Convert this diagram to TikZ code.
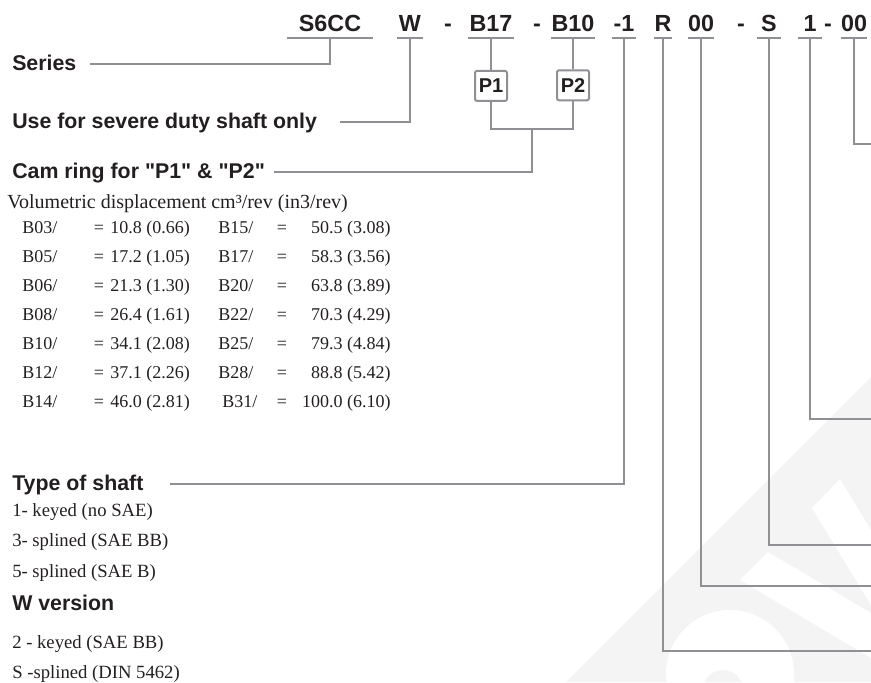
\documentclass[tikz,border=0pt]{standalone}
\usepackage{fontspec}
\setmainfont{Liberation Serif}
\setsansfont{Liberation Sans}
\newfontfamily\headfont{Liberation Sans}
\usepackage{tikz}
\usetikzlibrary{positioning,calc}
\definecolor{leadgray}{HTML}{8F8F94}
\definecolor{inkblack}{HTML}{231F20}
\definecolor{wmgray}{HTML}{F4F4F5}
\tikzset{
  lead/.style ={draw=leadgray,line width=1.5pt},
  code/.style ={font=\sffamily\bfseries\fontsize{17.5}{20}\selectfont,text=inkblack,anchor=base,inner sep=0pt,text depth=5pt},
  pbox/.style ={draw=leadgray,line width=1.5pt,rounded corners=1.5pt,minimum width=24pt,minimum height=22.5pt,inner sep=0pt,font=\sffamily\bfseries\fontsize{15}{18}\selectfont,text=inkblack},
  head/.style ={font=\headfont\bfseries\fontsize{16}{18}\selectfont,text=inkblack,anchor=base west,inner sep=0pt,text height=11pt,text depth=2pt},
  txt/.style  ={font=\fontsize{14}{16}\selectfont,text=inkblack,anchor=base west,inner sep=0pt},
  tab/.style  ={txt,font=\fontsize{13.5}{16}\selectfont},
}
\begin{document}
\begin{tikzpicture}[x=0.75pt,y=-0.75pt]
  \useasboundingbox (0,0) rectangle (871,682);
  % watermark
  \fill[wmgray] (566,682) -- (871,377) -- (871,682) -- cycle;
  \begin{scope}
    \clip (566,682) -- (871,377) -- (871,682) -- cycle;
    \fill[white] (812,508) -- (840,479) -- (871,530) -- (871,605) -- cycle;
    \fill[white] (740,580) -- (768,552) -- (871,613) -- (871,658) -- cycle;
    \fill[white] (730,674) circle[radius=64];
    \fill[wmgray] (723,690) circle[radius=20];
  \end{scope}

  % ordering code
  \node[code,minimum width=63.75pt] (s6cc) at (330,31) {S6CC};
  \node[code,minimum width=18.75pt] (w) at (410,31) {W};
  \node[code] (d1) at (448,31) {-};
  \node[code,minimum width=33.75pt] (b17) at (491,31) {B17};
  \node[code] (d2) at (537,31) {-};
  \node[code,minimum width=31.5pt] (b10) at (573,31) {B10};
  \node[code,minimum width=18pt] (m1) at (624,31) {-1};
  \node[code,minimum width=10.5pt] (r) at (663,31) {R};
  \node[code,minimum width=18pt] (oa) at (701,31) {00};
  \node[code] (d3) at (741,31) {-};
  \node[code,minimum width=18pt] (s) at (769,31) {S};
  \node[code,minimum width=18pt] (one) at (810,31) {1};
  \node[code] (d4) at (828,31) {-};
  \node[code,minimum width=18pt] (ob) at (854,31) {00};
  \foreach \n in {s6cc,w,b17,b10,m1,r,oa,s,one,ob}
    \draw[lead] (\n.south west) -- (\n.south east);

  \node[pbox,below=24pt of b17] (p1) {P1};
  \node[pbox,below=23.5pt of b10] (p2) {P2};

  % headings
  \node[head] (series) at (12,70) {Series};
  \node[head] (severe) at (12,128) {Use for severe duty shaft only};
  \node[head] (cam) at (12,178) {Cam ring for "P1" \& "P2"};
  \node[txt,font=\fontsize{15}{16}\selectfont] (vol) at (7,208) {Volumetric displacement cm³/rev (in3/rev)};

  \foreach \a/\b/\xc/\c/\d [count=\i, evaluate=\i as \y using 203.9+29.1*\i] in {
      03/10.8 (0.66)/218/15/50.5 (3.08),
      05/17.2 (1.05)/218/17/58.3 (3.56),
      06/21.3 (1.30)/218/20/63.8 (3.89),
      08/26.4 (1.61)/218/22/70.3 (4.29),
      10/34.1 (2.08)/218/25/79.3 (4.84),
      12/37.1 (2.26)/218/28/88.8 (5.42),
      14/46.0 (2.81)/222/31/100.0 (6.10)}
  {
    \node[tab] (ca\i) at (22,\y) {B\a/};
    \node[tab,anchor=base] (ea\i) at (99,\y) {=};
    \node[tab] (va\i) at (110,\y) {\b};
    \node[tab] (cb\i) at (\xc,\y) {B\c/};
    \node[tab,anchor=base] (eb\i) at (282,\y) {=};
    \node[tab,anchor=base east] (vb\i) at (391,\y) {\d};
  }

  \node[head] (shaft) at (12,490) {Type of shaft};
  \node[txt] (k1) at (12,516) {1- keyed (no SAE)};
  \node[txt] (k3) at (12,546) {3- splined (SAE BB)};
  \node[txt] (k5) at (12,577) {5- splined (SAE B)};
  \node[head] (wver) at (12,610) {W version};
  \node[txt] (k2) at (12,648) {2 - keyed (SAE BB)};
  \node[txt] (ks) at (12,678) {S -splined (DIN 5462)};

  % leads
  \coordinate (pjoin) at ($(p1.south)!0.5!(p2.south)+(0,27)$);
  \draw[lead] (s6cc.south) |- ([xshift=9.75pt]series.east);
  \draw[lead] (w.south) |- ([xshift=17.25pt]severe.east);
  \draw[lead] (b17.south) -- (p1.north);
  \draw[lead] (b10.south) -- (p2.north);
  \draw[lead] (p1.south) |- (pjoin) -| (p2.south);
  \draw[lead] (pjoin) |- ([xshift=6.75pt]cam.east);
  \draw[lead] (m1.south) |- ([xshift=19.5pt]shaft.east);
  \foreach \n/\y in {r/651,oa/586,s/545,one/419,ob/144}{
    \coordinate (\n end) at (871,\y);
    \draw[lead] (\n.south) |- (\n end);
  }
\end{tikzpicture}
\end{document}
